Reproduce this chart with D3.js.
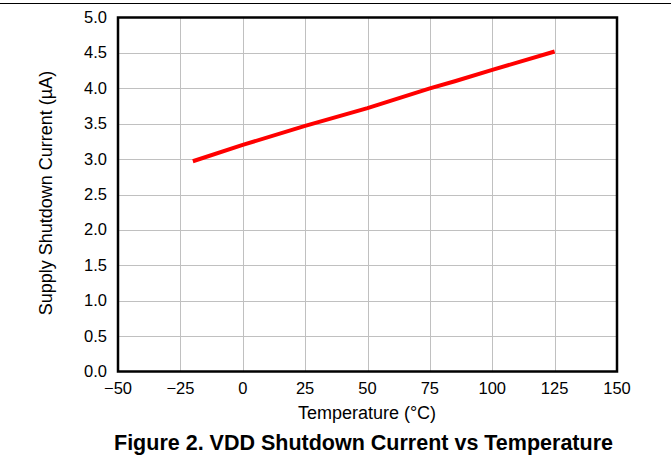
<!DOCTYPE html>
<html>
<head>
<meta charset="utf-8">
<script src="https://cdn.jsdelivr.net/npm/d3@7"></script>
<style>
  body { margin: 0; background: #fff; }
  svg text { font-family: "Liberation Sans", Arial, sans-serif; fill: #000; }
</style>
</head>
<body>
<svg id="chart" width="671" height="458"></svg>
<script>
// data
var temps = [-20, 0, 25, 50, 75, 85, 100, 125];
var current = [2.97, 3.2, 3.47, 3.72, 4.0, 4.1, 4.26, 4.52];
var xTicks = [-50, -25, 0, 25, 50, 75, 100, 125, 150];
var yTicks = [0, 0.5, 1, 1.5, 2, 2.5, 3, 3.5, 4, 4.5, 5];

var svg = d3.select('#chart');
// plot box (window.top is reserved, so use other names)
var plotL = 118, plotR = 617, plotT = 17.5, plotB = 371.5;

var x = d3.scaleLinear().domain([-50, 150]).range([plotL, plotR]);
var y = d3.scaleLinear().domain([0, 5]).range([plotB, plotT]);

// rule at top of page
svg.append('line')
  .attr('x1', 0).attr('x2', 671)
  .attr('y1', 3.5).attr('y2', 3.5)
  .attr('stroke', '#000').attr('stroke-width', 1);

// grid
svg.append('g').selectAll('line')
  .data(xTicks.slice(1, -1))
  .enter().append('line')
    .attr('x1', function (d) { return Math.round(x(d)) + 0.5; })
    .attr('x2', function (d) { return Math.round(x(d)) + 0.5; })
    .attr('y1', plotT).attr('y2', plotB)
    .attr('stroke', '#c0c0c0').attr('stroke-width', 1);
svg.append('g').selectAll('line')
  .data(yTicks.slice(1, -1))
  .enter().append('line')
    .attr('y1', function (d) { return Math.round(y(d)) + 0.5; })
    .attr('y2', function (d) { return Math.round(y(d)) + 0.5; })
    .attr('x1', plotL).attr('x2', plotR)
    .attr('stroke', '#c0c0c0').attr('stroke-width', 1);

// frame
svg.append('rect')
  .attr('x', plotL).attr('y', plotT)
  .attr('width', plotR - plotL).attr('height', plotB - plotT)
  .attr('fill', 'none').attr('stroke', '#000').attr('stroke-width', 2.5);

// tick labels
svg.append('g').selectAll('text')
  .data(xTicks)
  .enter().append('text')
    .attr('x', function (d) { return x(d); })
    .attr('y', plotB + 22)
    .attr('text-anchor', 'middle')
    .attr('font-size', 16.5)
    .text(function (d) { return d < 0 ? '\u2212' + Math.abs(d) : d; });

svg.append('g').selectAll('text')
  .data(yTicks)
  .enter().append('text')
    .attr('x', plotL - 11)
    .attr('y', function (d) { return y(d) + 5.5; })
    .attr('text-anchor', 'end')
    .attr('font-size', 16.5)
    .text(function (d) { return d.toFixed(1); });

// data line
var line = d3.line()
  .x(function (d, i) { return x(temps[i]); })
  .y(function (d) { return y(d); });

svg.append('path')
  .datum(current)
  .attr('d', line)
  .attr('fill', 'none')
  .attr('stroke', '#ff0000')
  .attr('stroke-width', 4);

// axis titles
svg.append('text')
  .attr('x', 367)
  .attr('y', 419)
  .attr('text-anchor', 'middle')
  .attr('font-size', 18)
  .text('Temperature (°C)');

svg.append('text')
  .attr('transform', 'translate(52,193) rotate(-90)')
  .attr('text-anchor', 'middle')
  .attr('font-size', 18)
  .text('Supply Shutdown Current (µA)');

// caption
svg.append('text')
  .attr('x', 363.5)
  .attr('y', 450)
  .attr('text-anchor', 'middle')
  .attr('font-size', 21.5)
  .attr('font-weight', 'bold')
  .text('Figure 2. VDD Shutdown Current vs Temperature');
</script>
</body>
</html>
